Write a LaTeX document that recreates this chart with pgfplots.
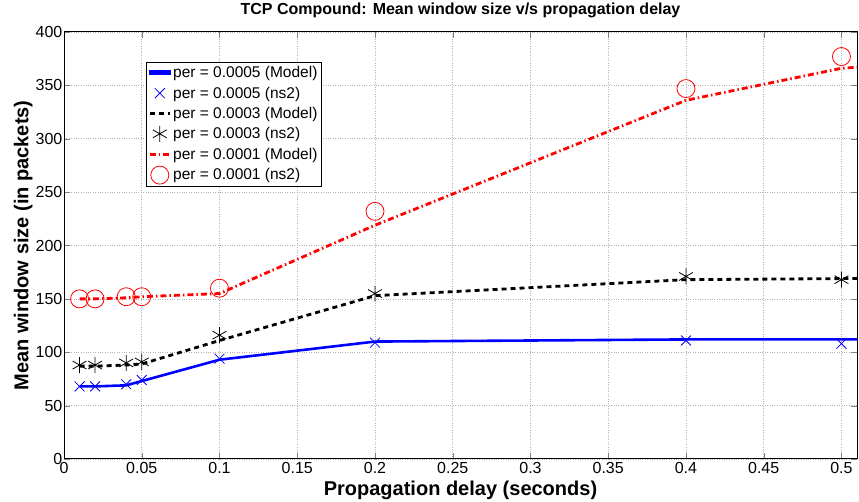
\documentclass[border=0pt]{standalone}
\usepackage{fontspec}
\setmainfont{Liberation Sans}
\usepackage{pgfplots}
\pgfplotsset{compat=1.18}
\begin{document}
\begin{tikzpicture}
\begin{axis}[
  name=ax,
  scale only axis,
  width=793pt, height=427pt,
  xmin=0, xmax=0.51, ymin=0, ymax=400,
  xtick={0,0.05,...,0.5},
  xticklabels={0,0.05,0.1,0.15,0.2,0.25,0.3,0.35,0.4,0.45,0.5},
  ytick={0,50,...,400},
  /pgf/number format/assume math mode=true,
  tick label style={font=\fontsize{16}{16}\selectfont},
  yticklabel style={inner sep=1.5pt},
  xticklabel style={inner sep=3.5pt},
  tick align=inside,
  major tick length=6pt,
  xmajorgrids, ymajorgrids,
  grid style={gray!60, dotted, line width=0.6pt},
  axis line style={line width=1pt},
  title={\bfseries TCP Compound: Mean window size v/s propagation delay},
  title style={font=\fontsize{16}{16}\selectfont, at={(axis description cs:0.5,1.037)}, anchor=center},
  xlabel={\bfseries Propagation delay (seconds)},
  ylabel={\bfseries Mean window size (in packets)},
  label style={font=\fontsize{20}{20}\selectfont},
  xlabel style={at={(axis description cs:0.5,-0.074)}, anchor=center},
  ylabel style={at={(axis description cs:-0.0515,0.5)}, anchor=center},
  legend style={at={(0.1034,0.9297)}, anchor=north west, draw=black, line width=0.9pt,
     font=\fontsize{15.5}{17}\selectfont, inner sep=2pt, row sep=3.6pt,
     legend cell align=left},
  clip=true,
]
% per = 0.0005 model
\addplot[blue, line width=2.6pt, mark=none,
  legend image code/.code={\fill[blue] (0cm,-1.3pt) rectangle (0.70cm,1.3pt);}] coordinates {
 (0.01,68) (0.02,68) (0.04,69) (0.05,73) (0.1,93) (0.2,110) (0.4,112) (0.5,112) (0.52,112)};
\addlegendentry{per = 0.0005 (Model)}
\addplot[only marks, blue, mark=x, mark size=7pt, mark options={line width=0.8pt},
  legend image code/.code={\draw[mark repeat=2,mark phase=2] plot coordinates {(0cm,0cm) (0.35cm,0cm) (0.70cm,0cm)};}] coordinates {
 (0.01,68) (0.02,68) (0.04,70) (0.05,74) (0.1,94) (0.2,109) (0.4,111) (0.5,108)};
\addlegendentry{per = 0.0005 (ns2)}
% per = 0.0003 model
\addplot[black, line width=2.8pt, dash pattern=on 5pt off 4pt, mark=none,
  legend image code/.code={\draw[black, line width=2.8pt, dash pattern=on 5pt off 4pt] (0cm,0cm) -- (0.70cm,0cm);}] coordinates {
 (0.01,87) (0.02,87) (0.04,88) (0.05,89) (0.1,111) (0.2,153) (0.4,168) (0.5,169) (0.52,169)};
\addlegendentry{per = 0.0003 (Model)}
\addplot[only marks, black, mark=asterisk, mark size=8pt, mark options={line width=0.8pt},
  legend image code/.code={\draw[mark repeat=2,mark phase=2] plot coordinates {(0cm,0cm) (0.35cm,0cm) (0.70cm,0cm)};}] coordinates {
 (0.01,88) (0.02,88) (0.04,90) (0.05,91) (0.1,116) (0.2,155) (0.4,171) (0.5,168)};
\addlegendentry{per = 0.0003 (ns2)}
% per = 0.0001 model
\addplot[red, line width=2.8pt, dash pattern=on 6pt off 3pt on 1.5pt off 3pt, mark=none,
  legend image code/.code={\draw[red, line width=2.8pt, dash pattern=on 6pt off 3pt on 1.5pt off 3pt] (0cm,0cm) -- (0.70cm,0cm);}] coordinates {
 (0.01,150) (0.02,150) (0.04,151) (0.05,152) (0.1,155) (0.2,219) (0.4,336) (0.5,366) (0.52,368)};
\addlegendentry{per = 0.0001 (Model)}
\addplot[only marks, red, mark=o, mark size=9pt, mark options={line width=0.8pt},
  legend image code/.code={\draw[mark repeat=2,mark phase=2] plot coordinates {(0cm,0cm) (0.35cm,0cm) (0.70cm,0cm)};}] coordinates {
 (0.01,150) (0.02,150) (0.04,152) (0.05,152) (0.1,160) (0.2,232) (0.4,347) (0.5,377)};
\addlegendentry{per = 0.0001 (ns2)}
\end{axis}
\pgfresetboundingbox
\useasboundingbox ([shift={(-64pt,-43pt)}]ax.south west) rectangle ([shift={(2pt,32pt)}]ax.north east);
\end{tikzpicture}
\end{document}
